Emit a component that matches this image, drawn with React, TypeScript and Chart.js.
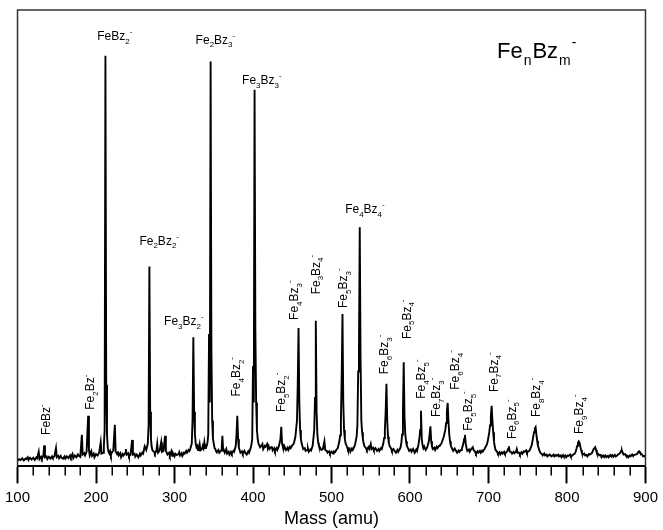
import { useEffect, useRef } from 'react';
import { Chart, registerables } from 'chart.js';

Chart.register(...registerables);

const FONT = '"Liberation Sans", Arial, Helvetica, sans-serif';

// ---- data: mass spectrum trace (mass in amu, intensity in arbitrary units) ----
const trace100to300: [number, number][] = [
  [100, 1.2], [102, 1.6], [104, 1.4], [106, 1.8], [108, 1.3], [110, 1.7], [111, 1.6], [113, 2.0], [114, 1.4],
  [116, 1.9], [118, 1.5], [120, 1.9], [122, 1.4], [124, 2.0],
  [125, 1.8], [127, 3.2], [128, 1.6], [130, 2.1], [131, 1.7], [133, 2.4], [134, 4.6], [135, 2.0], [137, 2.2], [138, 1.6],
  [140, 2.1], [142, 1.7], [144, 2.2], [145, 1.9], [147, 2.2], [149, 4.0], [150, 2.0], [152, 2.3], [153, 1.8], [155, 2.3], [156, 1.9], [158, 1.7],
  [160, 2.2], [161, 1.7], [163, 2.2], [165, 1.8], [167, 2.4], [168, 2.0], [170, 2.7], [171, 1.8], [173, 2.4], [175, 2.0], [177, 2.6], [178, 2.3],
  [180, 2.1], [182, 6.9], [183, 2.6], [185, 2.9], [186, 2.4], [188, 3.2], [190, 11.1], [191, 3.6], [192, 2.4],
  [194, 3.3], [195, 2.3], [197, 2.8], [198, 2.0], [200, 2.7], [202, 2.4], [204, 3.0], [206, 5.3], [207, 2.8], [209, 3.0],
  [210, 4.5], [211, 8], [212, 90], [213, 17.9], [214, 7], [215, 4], [216, 3.2], [217, 2.8], [218, 3.3], [219, 2.5],
  [220, 3.0], [222, 3.5], [224, 9.1], [225, 3.2], [226, 3.0], [227, 2.6], [228, 3.3], [229, 2.4], [231, 2.9], [232, 2.0], [234, 2.7], [235, 2.4],
  [237, 2.9], [238, 3.8], [239, 2.6], [241, 2.9], [242, 2.2], [244, 2.6], [246, 5.8], [247, 2.6], [249, 2.8], [250, 2.1],
  [252, 2.6], [254, 2.0], [256, 2.8], [257, 2.4], [259, 3.0], [260, 2.8], [262, 4.4], [264, 3.6], [266, 5], [267, 9], [268, 43.8],
  [269, 12], [270, 6], [271, 4.2], [272, 3.5], [274, 3.2], [275, 2.8], [277, 3.5], [278, 4.9], [279, 3.0], [281, 3.4],
  [283, 5.3], [284, 3.2], [286, 3.4], [288, 6.7], [289, 3.5], [290, 3.0], [291, 2.6], [293, 3.0], [294, 2.4], [296, 3.3],
  [297, 2.3], [298, 2.9],
];

const trace300to500: [number, number][] = [
  [300, 2.2], [301, 2.8], [303, 2.5], [305, 2.7], [306, 3.1], [307, 2.4], [309, 2.9], [310, 2.3], [312, 3.0], [313, 2.8], [315, 3.4], [316, 3.0], [318, 3.6], [319, 3.4],
  [320, 3.8], [322, 5], [323, 10.4], [324, 28.3], [325, 12], [326, 7], [327, 5], [328, 4.2], [329, 4.5], [330, 3.6], [331, 4.1],
  [332, 4.9], [333, 3.5], [335, 3.8], [336, 4.5], [337, 4.0], [338, 5.3], [339, 4], [340, 4.6], [341, 4.5], [342, 5.2], [343, 7],
  [344, 29], [345, 14], [346, 88.7], [347, 26], [348, 10], [349, 6], [350, 5], [351, 4], [352, 3.8], [353, 3.3], [354, 3.2],
  [356, 3.6], [357, 3.0], [359, 3.4], [360, 3.5], [361, 6.7], [362, 3.4], [363, 3.5], [364, 3.0], [366, 3.8], [367, 2.8], [369, 3.2], [370, 2.6],
  [372, 3.2], [373, 2.8], [375, 3.4], [376, 3.2], [378, 4.5], [379, 7], [380, 11.1], [381, 6], [382, 4], [383, 3.6], [384, 3.0], [386, 3.3],
  [387, 2.8], [389, 3.4], [390, 3.0], [392, 2.6], [394, 3.3], [395, 3.0], [397, 4], [398, 4.8], [399, 6], [400, 22], [401, 14],
  [402, 82.5], [403, 30], [404, 14], [405, 8], [406, 6], [407, 5], [408, 4.6], [409, 4.2], [411, 4.6], [412, 4.9], [413, 3.8], [415, 4.5],
  [416, 4.3], [418, 4.9], [419, 4.0], [420, 4.4], [421, 3.8], [423, 4.2], [424, 4.4], [425, 3.5], [427, 4.0], [428, 3.4], [430, 4.0], [431, 3.6],
  [433, 4.5], [435, 6], [436, 8.7], [437, 5], [438, 4.3], [439, 3.8], [440, 4.4], [442, 3.6], [444, 4.1], [445, 3.6], [447, 4.3],
  [448, 4.0], [450, 4.6], [452, 5], [454, 6.5], [456, 10], [457, 18], [458, 30.3], [459, 14],
  [460, 8], [461, 6], [462, 5], [463, 4.4], [464, 3.8], [466, 4.0], [467, 3.4], [469, 3.6], [470, 3.9], [471, 3.2], [473, 3.7], [474, 3.5], [476, 4.5],
  [478, 8], [479, 15], [480, 31.9], [481, 12], [482, 7], [483, 5.2], [484, 4.5], [486, 4.0], [487, 3.6], [489, 3.8],
  [491, 5.5], [492, 3.6], [494, 3.4], [495, 3.0], [497, 3.3], [498, 2.8],
];

const trace500to700: [number, number][] = [
  [500, 3.2], [502, 2.8], [503, 3.3], [505, 3.2], [506, 3.6], [508, 4], [510, 5.5], [511, 6.8], [512, 10], [513, 20], [514, 33.4],
  [515, 14], [516, 8], [517, 6], [518, 5], [520, 4.2], [521, 3.6], [523, 3.9], [524, 3.2], [526, 3.9], [527, 3.6], [529, 4.3], [530, 4.8], [532, 6.5],
  [533, 9], [534, 20.8], [535, 26.1], [536, 52.4], [537, 24], [538, 10], [539, 7.5], [540, 6], [541, 5], [542, 4.4], [544, 4.0],
  [545, 3.6], [547, 4.2], [548, 3.8], [550, 4.9], [551, 3.8], [553, 4.1], [554, 3.6], [556, 4.0], [557, 3.7], [558, 3.4], [560, 3.8], [561, 3.4],
  [563, 4.0], [564, 3.8], [566, 5], [567, 6.2], [568, 8], [569, 12], [570, 18.1], [571, 10], [572, 6.5], [573, 5.2], [574, 4.5], [576, 3.9],
  [577, 3.4], [579, 3.8], [580, 3.5], [582, 3.0], [584, 3.6], [585, 3.2], [587, 3.8], [588, 4.2], [589, 5.2], [590, 7], [591, 12], [592, 22.8],
  [593, 11], [594, 7], [595, 5.5], [596, 4.5], [598, 3.8], [599, 3.4], [601, 3.7], [602, 3.2], [604, 3.8], [606, 3.0], [608, 3.7], [609, 3.4],
  [611, 5], [612, 6.2], [613, 8], [614, 12.2], [615, 6], [616, 4.6], [617, 4.0], [618, 4.4], [620, 3.6], [622, 4.2],
  [624, 5.5], [625, 7], [626, 8.8], [627, 5.5], [628, 4.4], [629, 3.8], [631, 4.1], [632, 3.6], [634, 4.3], [635, 4.0], [637, 4.5], [638, 4.6],
  [640, 5.0], [641, 5.5], [643, 6.5], [645, 8], [646, 9.5], [647, 12], [648, 13.9], [649, 10], [650, 7], [651, 5.5], [652, 4.5], [654, 3.8],
  [655, 3.4], [657, 3.9], [658, 3.6], [660, 3.0], [662, 3.5], [663, 3.2], [665, 3.6], [666, 3.8], [668, 5], [669, 6], [670, 6.9], [671, 5],
  [672, 4.0], [673, 3.4], [675, 3.7], [676, 3.2], [678, 3.8], [680, 4.2], [681, 3.6], [683, 3.2], [684, 2.8], [686, 3.3], [687, 3.0], [689, 3.4], [690, 3.0],
  [692, 3.5], [693, 3.4], [695, 3.8], [696, 4.2], [698, 4.8], [699, 5.5],
];

const trace700to900: [number, number][] = [
  [701, 7.5], [702, 9], [703, 11], [704, 13.3], [705, 10], [706, 7.5], [707, 5.5], [708, 4.3], [709, 3.6], [711, 3.2], [712, 2.8], [714, 3.1], [715, 2.6],
  [717, 3.1], [718, 2.8], [720, 3.2], [721, 2.8], [723, 3.1], [724, 3.4], [725, 3.8], [726, 4.4], [727, 3.3], [729, 3.1], [730, 2.8], [732, 3.2], [733, 2.9], [735, 3.2], [736, 3.8],
  [737, 3.0], [739, 3.0], [740, 2.6], [742, 3.1], [743, 2.8], [745, 3.3], [746, 3.2], [748, 3.5], [749, 3.0], [750, 3.2], [752, 3.4], [753, 3.8], [755, 4.6], [756, 5.5],
  [758, 7.5], [759, 8.3], [760, 8.6], [761, 7], [762, 5.6], [763, 4.5], [765, 3.4], [766, 3.0], [768, 2.7], [769, 2.4], [771, 2.8], [772, 2.4], [774, 2.6], [775, 2.2],
  [777, 2.5], [778, 2.6], [780, 2.2], [781, 2.3], [783, 2.6], [784, 2.2], [786, 2.5], [787, 2.4], [789, 2.6], [790, 2.2], [792, 2.4], [793, 2.0], [795, 2.5], [796, 2.2], [798, 2.4], [799, 2.0],
  [801, 2.4], [802, 2.3], [804, 2.6], [805, 2.2], [807, 2.4], [808, 2.6], [810, 2.8], [811, 3.2], [812, 3.8], [813, 4.5], [814, 5.2], [815, 5.5], [816, 5.2], [817, 4.3], [818, 3.6],
  [819, 3.0], [820, 2.6], [822, 2.8], [823, 2.4], [825, 2.5], [826, 2.2], [828, 2.7], [829, 2.6], [831, 2.8], [832, 3.0], [834, 3.8], [835, 4.0], [836, 4.2], [837, 3.6], [838, 3.0],
  [840, 2.7], [841, 2.4], [843, 2.5], [844, 2.0], [846, 2.4], [847, 2.2], [849, 2.4], [850, 2.0], [852, 2.3], [853, 2.0], [855, 2.5], [856, 2.3], [858, 2.5], [859, 2.1], [861, 2.5], [862, 2.2],
  [864, 2.4], [865, 2.6], [867, 2.8], [868, 3.0], [869, 3.4], [870, 3.5], [871, 3.0], [872, 2.6], [874, 2.7], [875, 2.4], [877, 2.3], [878, 2.0], [880, 2.4], [881, 2.2], [883, 2.6], [884, 2.4],
  [886, 2.5], [887, 2.6], [889, 2.7], [890, 2.9], [891, 3.2], [892, 3.3], [893, 3.0], [894, 2.9], [896, 2.5], [897, 2.2], [899, 2.3], [900, 2.0],
];

// ---- axis ----
const majorTicks = [100, 200, 300, 400, 500, 600, 700, 800, 900];
const minorTicks = [
  120, 140, 160, 180, 220, 240, 260, 280, 320, 340, 360, 380, 420, 440, 460, 480,
  520, 540, 560, 580, 620, 640, 660, 680, 720, 740, 760, 780, 820, 840, 860, 880,
];
const xTitle = 'Mass (amu)';

// ---- peak assignments Fe_n Bz_m^- ----
// horizontal labels: anchored at (mass, intensity) of left/baseline
const horizontalLabels = [
  { n: 1, m: 2, mass: 201.6, y: 93.4 },
  { n: 2, m: 3, mass: 326.9, y: 92.6 },
  { n: 3, m: 3, mass: 386.1, y: 83.8 },
  { n: 2, m: 2, mass: 255.3, y: 48.6 },
  { n: 3, m: 2, mass: 286.7, y: 31.0 },
  { n: 4, m: 4, mass: 517.4, y: 55.5 },
];
// vertical labels: anchored at (mass, intensity) of baseline/start
const verticalLabels = [
  { n: 1, m: 1, mass: 141.9, y: 6.9 },
  { n: 2, m: 1, mass: 197.8, y: 12.4 },
  { n: 4, m: 2, mass: 383.8, y: 15.3 },
  { n: 5, m: 2, mass: 440.7, y: 11.9 },
  { n: 4, m: 3, mass: 457.6, y: 32.1 },
  { n: 3, m: 4, mass: 485.1, y: 37.7 },
  { n: 5, m: 3, mass: 520.3, y: 34.7 },
  { n: 6, m: 3, mass: 571.9, y: 20.2 },
  { n: 5, m: 4, mass: 600.7, y: 27.9 },
  { n: 4, m: 5, mass: 619.4, y: 14.8 },
  { n: 7, m: 3, mass: 638.8, y: 10.8 },
  { n: 6, m: 4, mass: 662.9, y: 16.8 },
  { n: 5, m: 5, mass: 679.0, y: 7.8 },
  { n: 7, m: 4, mass: 711.6, y: 16.3 },
  { n: 6, m: 5, mass: 734.9, y: 6.0 },
  { n: 8, m: 4, mass: 765.8, y: 10.8 },
  { n: 9, m: 4, mass: 820.8, y: 7.1 },
];
const legendLabel = { n: 'n', m: 'm', mass: 710.8, y: 89.4 };

function drawFormula(ctx: CanvasRenderingContext2D, n: string, m: string, size: number, subSize: number, gap = 0) {
  let cx = 0;
  const seg = (t: string, fs: number, dy: number) => {
    ctx.font = `${fs}px ${FONT}`;
    ctx.fillText(t, cx, dy);
    cx += ctx.measureText(t).width + gap;
  };
  seg('Fe', size, 0);
  if (n !== '1') seg(n, subSize, size * 0.3);
  seg('Bz', size, 0);
  if (m !== '1') seg(m, subSize, size * 0.3);
  seg('-', subSize, -size * 0.5);
}

const decorPlugin = {
  id: 'decor',
  afterDraw(chart: any) {
    const { ctx, chartArea } = chart;
    const { left, top, right, bottom } = chartArea;
    const xs = chart.scales.x;
    const ys = chart.scales.y;
    ctx.save();
    // frame
    ctx.strokeStyle = '#333';
    ctx.lineWidth = 1.5;
    ctx.beginPath();
    ctx.moveTo(left, bottom);
    ctx.lineTo(left, top);
    ctx.lineTo(right, top);
    ctx.lineTo(right, bottom);
    ctx.stroke();
    // minor ticks
    ctx.strokeStyle = '#000';
    ctx.lineWidth = 1.5;
    ctx.beginPath();
    for (const v of minorTicks) {
      const px = Math.round(xs.getPixelForValue(v)) + 0.25;
      ctx.moveTo(px, bottom);
      ctx.lineTo(px, bottom + 9);
    }
    ctx.stroke();
    // labels
    ctx.fillStyle = '#000';
    ctx.textBaseline = 'alphabetic';
    ctx.textAlign = 'left';
    for (const l of horizontalLabels) {
      ctx.save();
      ctx.translate(xs.getPixelForValue(l.mass), ys.getPixelForValue(l.y));
      drawFormula(ctx, String(l.n), String(l.m), 12, 8);
      ctx.restore();
    }
    for (const l of verticalLabels) {
      ctx.save();
      ctx.translate(xs.getPixelForValue(l.mass), ys.getPixelForValue(l.y));
      ctx.rotate(-Math.PI / 2);
      drawFormula(ctx, String(l.n), String(l.m), 12, 8);
      ctx.restore();
    }
    ctx.save();
    ctx.translate(xs.getPixelForValue(legendLabel.mass), ys.getPixelForValue(legendLabel.y));
    drawFormula(ctx, legendLabel.n, legendLabel.m, 22, 14, 1);
    ctx.restore();
    ctx.restore();
  },
};

export default function App() {
  const ref = useRef<HTMLCanvasElement | null>(null);
  useEffect(() => {
    const canvas = ref.current;
    if (!canvas) return;
    const points = [...trace100to300, ...trace300to500, ...trace500to700, ...trace700to900].map(([x, y]) => ({ x, y }));
    const chart = new Chart(canvas, {
      type: 'line',
      data: {
        datasets: [
          {
            data: points,
            borderColor: '#000',
            borderWidth: 1.9,
            pointRadius: 0,
            tension: 0,
            fill: false,
          },
        ],
      },
      options: {
        animation: false,
        responsive: false,
        devicePixelRatio: 1,
        parsing: false,
        layout: { padding: { left: 14, right: 13, top: 10, bottom: 0 } },
        plugins: { legend: { display: false }, tooltip: { enabled: false } },
        scales: {
          x: {
            type: 'linear',
            min: majorTicks[0],
            max: majorTicks[majorTicks.length - 1],
            afterBuildTicks: (scale: any) => {
              scale.ticks = majorTicks.map((v) => ({ value: v }));
            },
            ticks: {
              color: '#000',
              font: { family: FONT, size: 15 },
              padding: 5,
              maxRotation: 0,
              autoSkip: false,
            },
            grid: {
              drawOnChartArea: false,
              drawTicks: true,
              tickLength: 17,
              tickWidth: 2,
              tickColor: '#000',
            },
            border: { display: true, color: '#000', width: 2 },
            title: {
              display: true,
              text: xTitle,
              color: '#000',
              font: { family: FONT, size: 18 },
              padding: { top: -3, bottom: 0 },
            },
          },
          y: { display: false, min: 0, max: 100 },
        },
      } as any,
      plugins: [decorPlugin],
    });
    return () => chart.destroy();
  }, []);
  return (
    <div style={{ position: 'fixed', left: 0, top: 0, width: 663, height: 530, background: '#fff' }}>
      <canvas ref={ref} width={663} height={530} style={{ width: 663, height: 530, display: 'block' }} />
    </div>
  );
}
